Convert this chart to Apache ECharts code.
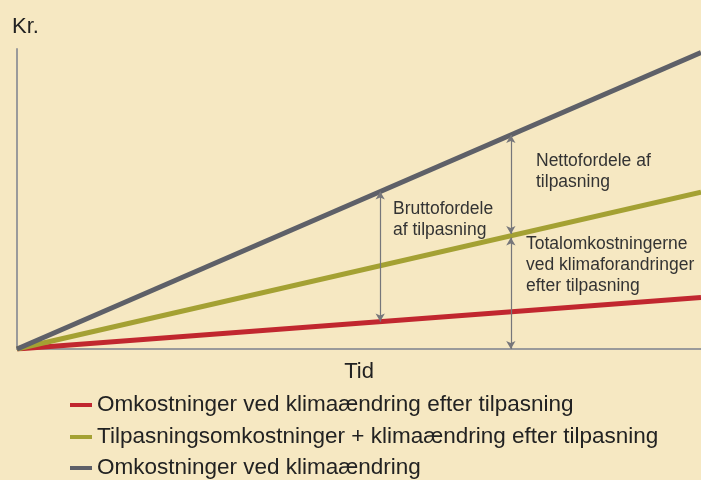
<!DOCTYPE html>
<html>
<head>
<meta charset="utf-8">
<script src="https://cdn.jsdelivr.net/npm/echarts@6/dist/echarts.min.js"></script>
<style>
html,body{margin:0;padding:0;background:#f6e8c2}
#main{width:701px;height:480px}
</style>
</head>
<body>
<div id="main"></div>
<script>
// tid (x) og kr. (y), relative værdier
var tid = [0, 100]
var omkUdenTilpasning = [0, 98.8]
var tilpasningPlus = [0, 52.3]
var omkEfterTilpasning = [0, 17.2]
var navne = [
  'Omkostninger ved klimaændring efter tilpasning',
  'Tilpasningsomkostninger + klimaændring efter tilpasning',
  'Omkostninger ved klimaændring'
]
var farver = ['#c1272f', '#a4a133', '#5e6068']
// pile ved disse x-værdier
var pilBrutto = 53.1
var pilNetto = 72.2

function ved(arr, x){ return arr[0] + (arr[1]-arr[0]) * x / tid[1] }
function par(arr){ return tid.map(function(t, i){ return [t, arr[i]] }) }

var chart = echarts.init(document.getElementById('main'))

var pilStil = { color: '#76767a', width: 1.2, type: 'solid' }
var pile = [
  [{coord:[pilBrutto, ved(omkUdenTilpasning, pilBrutto)]}, {coord:[pilBrutto, ved(omkEfterTilpasning, pilBrutto)]}],
  [{coord:[pilNetto, ved(omkUdenTilpasning, pilNetto)]}, {coord:[pilNetto, ved(tilpasningPlus, pilNetto) + 0.6]}],
  [{coord:[pilNetto, ved(tilpasningPlus, pilNetto) - 0.6]}, {coord:[pilNetto, 0]}]
]

var font = 'Liberation Sans, Arial'
var tekst = { fill: '#333', fontSize: 17.5, fontFamily: font, lineHeight: 21 }

var legendTop = [388, 420, 451]
var legender = navne.map(function(n, i){
  return {
    left: 65, top: legendTop[i],
    itemWidth: 22, itemHeight: 4, icon: 'rect',
    textStyle: { fontSize: 22.5, color: '#222', fontFamily: font, lineHeight: 24 },
    data: [n]
  }
})

chart.setOption({
  backgroundColor: '#f6e8c2',
  animation: false,
  grid: { left: 17, right: 0, top: 49, bottom: 131 },
  xAxis: {
    type: 'value', min: 0, max: 100,
    name: 'Tid', nameLocation: 'middle', nameGap: 12,
    nameTextStyle: { fontSize: 22, color: '#222', fontFamily: font },
    axisLine: { lineStyle: { color: '#9a9a9a', width: 2 } },
    axisTick: { show: false }, axisLabel: { show: false }, splitLine: { show: false }
  },
  yAxis: {
    type: 'value', min: 0, max: 100,
    axisLine: { show: true, lineStyle: { color: '#9a9a9a', width: 2 } },
    axisTick: { show: false }, axisLabel: { show: false }, splitLine: { show: false }
  },
  legend: legender,
  series: [
    { name: navne[2], type: 'line', data: par(omkUdenTilpasning), symbol: 'none',
      lineStyle: { width: 5, color: farver[2] }, itemStyle: { color: farver[2] }, z: 3,
      markLine: { silent: true, symbol: ['arrow', 'arrow'], symbolSize: [7, 8],
        label: { show: false }, lineStyle: pilStil, data: pile } },
    { name: navne[1], type: 'line', data: par(tilpasningPlus), symbol: 'none',
      lineStyle: { width: 5, color: farver[1] }, itemStyle: { color: farver[1] }, z: 2 },
    { name: navne[0], type: 'line', data: par(omkEfterTilpasning), symbol: 'none',
      lineStyle: { width: 5, color: farver[0] }, itemStyle: { color: farver[0] }, z: 1 }
  ],
  graphic: [
    { type: 'text', left: 12, top: 16, style: { text: 'Kr.', fill: '#222', fontSize: 22, fontFamily: font } },
    { type: 'text', left: 393, top: 199, style: Object.assign({ text: 'Bruttofordele\naf tilpasning' }, tekst) },
    { type: 'text', left: 536, top: 151, style: Object.assign({ text: 'Nettofordele af\ntilpasning' }, tekst) },
    { type: 'text', left: 526, top: 234, style: Object.assign({ text: 'Totalomkostningerne\nved klimaforandringer\nefter tilpasning' }, tekst) }
  ]
})
</script>
</body>
</html>
